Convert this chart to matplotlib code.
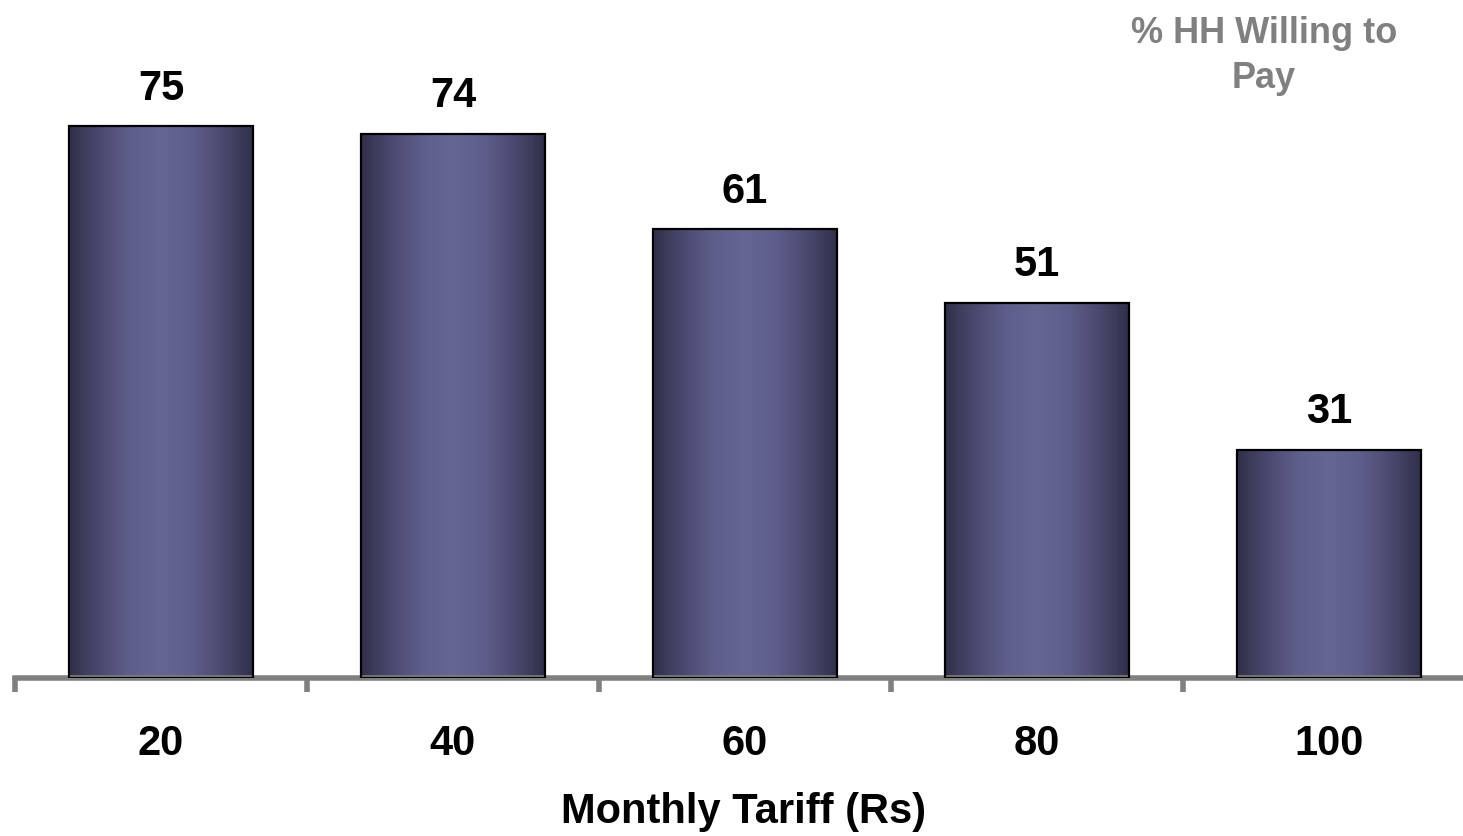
import matplotlib.pyplot as plt
import numpy as np
from matplotlib.colors import LinearSegmentedColormap

plt.rcParams['font.family'] = ['Liberation Sans', 'DejaVu Sans']

tariffs = ['20', '40', '60', '80', '100']
willing = [75, 74, 61, 51, 31]

# cylinder-like shading across each bar
shade = LinearSegmentedColormap.from_list(
    'shade', ['#30304a', '#4a4a70', '#5e5e8c', '#666692', '#5e5e8c', '#4a4a70', '#30304a'])

fig = plt.figure(figsize=(14.63, 8.36), dpi=100)
ax = fig.add_axes([15 / 1463, 158 / 836, 1460 / 1463, 662 / 836])

x = np.arange(len(tariffs))
bars = ax.bar(x, willing, width=0.63, facecolor='none', edgecolor='black', linewidth=1.6, zorder=3)

grad = np.linspace(0, 1, 256).reshape(1, -1)
for b, v in zip(bars, willing):
    x0, w, h = b.get_x(), b.get_width(), b.get_height()
    im = ax.imshow(grad, cmap=shade, aspect='auto', extent=[x0, x0 + w, 0, h], zorder=2)
    im.set_clip_path(b)
    ax.text(x0 + w / 2, h + 2.4, str(v), ha='center', va='bottom', fontsize=30, fontweight='bold')

ax.set_xlim(-0.5, 4.5)
ax.set_ylim(0, 90)

for s in ['top', 'right', 'left']:
    ax.spines[s].set_visible(False)
ax.spines['bottom'].set_color('#808080')
ax.spines['bottom'].set_linewidth(4)
ax.set_yticks([])

# tick marks between categories, labels under each bar
ax.set_xticks(np.arange(-0.5, 4.0, 1.0))
ax.set_xticklabels([])
ax.tick_params(axis='x', which='major', length=10, width=4, color='#808080', direction='out')
ax.set_xticks(x, minor=True)
ax.set_xticklabels(tariffs, minor=True, fontsize=30, fontweight='bold')
ax.tick_params(axis='x', which='minor', length=0, pad=33)

fig.text(744 / 1463, 1 - 812 / 836, 'Monthly Tariff (Rs)', ha='center', va='center',
         fontsize=30, fontweight='bold')
fig.text(1264 / 1463, 1 - 56 / 836, '% HH Willing to\nPay', ha='center', va='center',
         fontsize=26, fontweight='bold', color='#808080', linespacing=1.4)

fig.savefig('out.png', dpi=100)
